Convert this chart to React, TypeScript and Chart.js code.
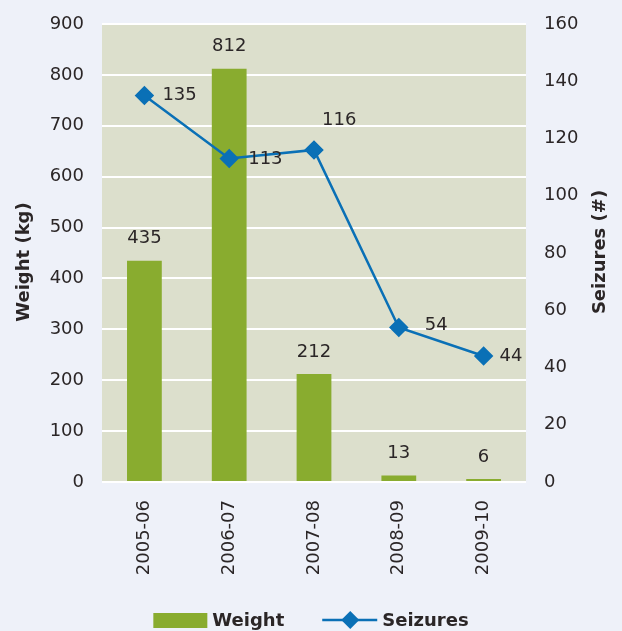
import React, { useEffect, useRef } from "react";
import { Chart, registerables } from "chart.js";

Chart.register(...registerables);

const categories = ["2005-06", "2006-07", "2007-08", "2008-09", "2009-10"];
const weightKg = [435, 812, 212, 13, 6];
const seizures = [135, 113, 116, 54, 44];
// label offsets (dx, dy) for seizure data labels, relative to point
const seizureLabelOffsets: [number, number][] = [
  [18, 0],
  [19, 1],
  [8, -30],
  [26, -2],
  [16, 0],
];

const FONT = "'DejaVu Sans', sans-serif";
const TEXT = "#2b2627";
const BAR = "#89ac2f";
const LINE = "#0a70b6";
const PLOT_BG = "#dcdfcc";
const PAGE_BG = "#eef1f9";

const plugin = {
  id: "custom",
  beforeDraw(chart: any) {
    const { ctx, chartArea } = chart;
    ctx.save();
    ctx.fillStyle = PLOT_BG;
    ctx.fillRect(chartArea.left, chartArea.top, chartArea.right - chartArea.left, chartArea.bottom - chartArea.top);
    ctx.restore();
  },
  afterDatasetsDraw(chart: any) {
    const { ctx, chartArea } = chart;
    ctx.save();
    ctx.font = `18px ${FONT}`;
    ctx.fillStyle = TEXT;
    ctx.textBaseline = "middle";
    const barMeta = chart.getDatasetMeta(0);
    ctx.textAlign = "center";
    barMeta.data.forEach((el: any, i: number) => {
      ctx.fillText(String(weightKg[i]), el.x, el.y - 22);
    });
    const lineMeta = chart.getDatasetMeta(1);
    ctx.textAlign = "left";
    lineMeta.data.forEach((el: any, i: number) => {
      const [dx, dy] = seizureLabelOffsets[i];
      ctx.fillText(String(seizures[i]), el.x + dx, el.y + dy);
    });

    // axis titles
    ctx.font = `bold 18px ${FONT}`;
    ctx.textAlign = "center";
    ctx.save();
    ctx.translate(24, (chartArea.top + chartArea.bottom) / 2 + 9);
    ctx.rotate(-Math.PI / 2);
    ctx.fillText("Weight (kg)", 0, 0);
    ctx.restore();
    ctx.save();
    ctx.translate(chart.width - 22, (chartArea.top + chartArea.bottom) / 2 - 1);
    ctx.rotate(-Math.PI / 2);
    ctx.fillText("Seizures (#)", 0, 0);
    ctx.restore();

    // legend
    ctx.font = `bold 18px ${FONT}`;
    ctx.textAlign = "left";
    const w1 = ctx.measureText("Weight").width;
    const w2 = ctx.measureText("Seizures").width;
    const boxW = 54;
    const lineW = 55;
    const gap1 = 5;
    const gapMid = 38;
    const total = boxW + gap1 + w1 + gapMid + lineW + gap1 + w2;
    let x = chart.width / 2 - total / 2;
    const y = 620;
    ctx.fillStyle = BAR;
    ctx.fillRect(x, y - 7, boxW, 15);
    x += boxW + gap1;
    ctx.fillStyle = TEXT;
    ctx.fillText("Weight", x, y + 1);
    x += w1 + gapMid;
    ctx.strokeStyle = LINE;
    ctx.lineWidth = 2.5;
    ctx.beginPath();
    ctx.moveTo(x, y);
    ctx.lineTo(x + lineW, y);
    ctx.stroke();
    const cx = x + 28;
    const r = 9;
    ctx.fillStyle = LINE;
    ctx.beginPath();
    ctx.moveTo(cx - r, y);
    ctx.lineTo(cx, y - r);
    ctx.lineTo(cx + r, y);
    ctx.lineTo(cx, y + r);
    ctx.closePath();
    ctx.fill();
    x += lineW + gap1;
    ctx.fillStyle = TEXT;
    ctx.fillText("Seizures", x, y + 1);
    ctx.restore();
  },
};

export default function App() {
  const ref = useRef<HTMLCanvasElement | null>(null);
  useEffect(() => {
    if (!ref.current) return;
    Chart.defaults.font.family = FONT;
    const chart = new Chart(ref.current, {
      type: "bar",
      data: {
        labels: categories,
        datasets: [
          {
            type: "bar",
            label: "Weight",
            data: weightKg,
            backgroundColor: BAR,
            yAxisID: "y",
            barPercentage: 0.41,
            categoryPercentage: 1,
            order: 1,
          },
          {
            type: "line",
            label: "Seizures",
            data: seizures,
            borderColor: LINE,
            backgroundColor: LINE,
            borderWidth: 2.5,
            pointStyle: "rectRot",
            pointRadius: 8,
            pointBackgroundColor: LINE,
            pointBorderColor: LINE,
            yAxisID: "y1",
            tension: 0,
            order: 0,
          } as any,
        ],
      },
      options: {
        animation: false,
        responsive: false,
        layout: { padding: { top: 24, left: 0, right: 0, bottom: 0 } },
        plugins: { legend: { display: false }, tooltip: { enabled: false } },
        scales: {
          x: {
            grid: { display: false },
            border: { display: false },
            ticks: {
              color: TEXT,
              font: { size: 18 },
              minRotation: 90,
              maxRotation: 90,
              padding: 10,
            },
            afterFit(scale: any) {
              scale.height = 149;
              scale.paddingLeft = 0;
              scale.paddingRight = 0;
            },
          },
          y: {
            position: "left",
            min: 0,
            max: 900,
            ticks: { stepSize: 100, color: TEXT, font: { size: 18 }, padding: 18 },
            grid: { color: "#ffffff", lineWidth: 2, drawTicks: false },
            border: { display: false },
            afterFit(scale: any) {
              scale.width = 102;
              scale.paddingTop = 0;
              scale.paddingBottom = 0;
            },
          },
          y1: {
            position: "right",
            min: 0,
            max: 160,
            ticks: { stepSize: 20, color: TEXT, font: { size: 18 }, padding: 18 },
            grid: { display: false, drawTicks: false },
            border: { display: false },
            afterFit(scale: any) {
              scale.width = 96;
              scale.paddingTop = 0;
              scale.paddingBottom = 0;
            },
          },
        },
      },
      plugins: [plugin],
    });
    return () => chart.destroy();
  }, []);
  return (
    <div style={{ position: "absolute", left: 0, top: 0, width: 622, height: 631, background: PAGE_BG, overflow: "hidden" }}>
      <canvas ref={ref} width={622} height={631} style={{ display: "block" }} />
    </div>
  );
}
